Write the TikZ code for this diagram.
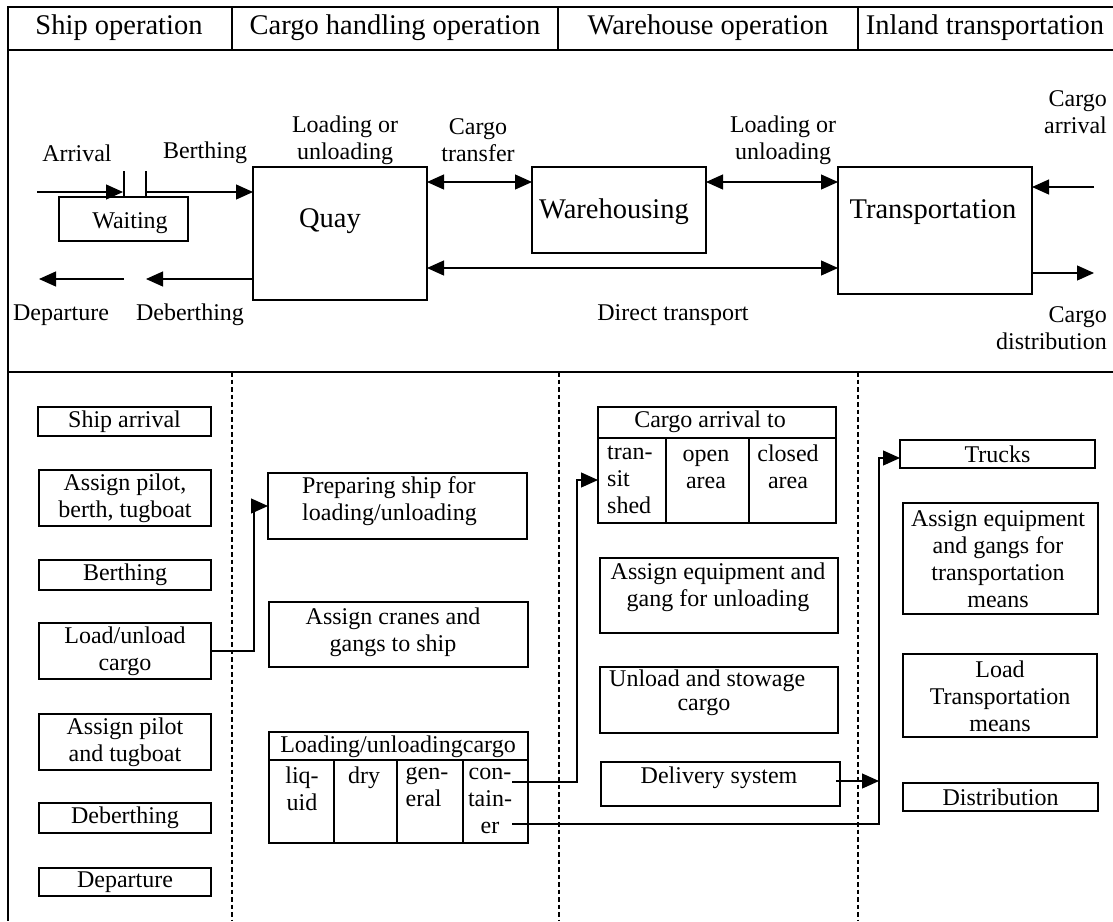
\documentclass[tikz,border=0pt]{standalone}
\usepackage{fontspec}
\setmainfont{Liberation Serif}
\usetikzlibrary{arrows.meta}
\newcommand\mkbox[6][bx]{\node[#1, minimum width={#4-#2}, minimum height={#5-#3}] (#6) at (#2,#3) {};}
\begin{document}
\begin{tikzpicture}[x=1pt,y=-1pt,
  frame/.style={line width=2.2pt},
  bx/.style={draw, line width=2.2pt, rectangle, inner sep=0pt, outer sep=0pt, anchor=north west},
  thinbx/.style={bx, line width=1.2pt},
  tabline/.style={line width=2.2pt},
  txt/.style={font=\fontsize{24}{27}\selectfont, align=center, inner sep=0pt},
  big/.style={font=\fontsize{28.5}{32}\selectfont, inner sep=0pt},
  con/.style={line width=1.2pt},
  arr/.style={con, -{Triangle[length=17pt,width=15pt]}},
  darr/.style={con, {Triangle[length=17pt,width=15pt]}-{Triangle[length=17pt,width=15pt]}},
  sepline/.style={line width=1.6pt, dash pattern=on 4.5pt off 3pt}
]
\useasboundingbox (0,0) rectangle (1113,921);

% ---- frame ----
\draw[frame] (1113,7) -- (8,7) -- (8,921);
\draw[frame] (8,50) -- (1113,50);
\draw[frame] (8,372) -- (1113,372);
\draw[frame] (232,7) -- (232,50);
\draw[frame] (558,7) -- (558,50);
\draw[frame] (858,7) -- (858,50);
\node[big] (h1) at (119,28) {Ship operation};
\node[big] (h2) at (395,28) {Cargo handling operation};
\node[big] (h3) at (708,28) {Warehouse operation};
\node[big] (h4) at (985,28) {Inland transportation};

% ---- middle section ----
\mkbox{253}{167}{427}{300}{quay}
\node[big] (quaylbl) at (330,221) {Quay};
\mkbox{532}{167}{706}{253}{wh}
\node[big] (whlbl) at (614,212) {Warehousing};
\mkbox{838}{167}{1032}{294}{tr}
\node[big] (trlbl) at (933,212) {Transportation};
\mkbox[thinbx]{59}{197}{188}{241}{waiting}
\node[txt] (waitlbl) at (130,223) {Waiting};

\node[txt] (arrlbl) at (77,153) {Arrival};
\node[txt] (berlbl) at (205,153) {Berthing};
\node[txt] (lu1) at (345,140) {Loading or\\unloading};
\node[txt] (ctr) at (478,140) {Cargo\\transfer};
\node[txt] (lu2) at (783,140) {Loading or\\unloading};
\node[txt, align=right, anchor=east] (carr) at (1107,112) {Cargo\\arrival};
\node[txt] (deplbl) at (61,315) {Departure};
\node[txt] (deblbl) at (190,315) {Deberthing};
\node[txt] (direct) at (673,315) {Direct transport};
\node[txt, align=right, anchor=east] (cdist) at (1107,328) {Cargo\\distribution};

\coordinate (arrin) at (37,192);
\coordinate (arrtip) at (123,192);
\draw[arr] (arrin) -- (arrtip);
\draw[con] (124,171) -- (124,197);
\draw[con] (146,171) -- (146,197);
\coordinate (berthstart) at (146,192);
\draw[arr] (berthstart) -- (berthstart -| quay.west);
\coordinate (debtip) at (146,279);
\draw[arr] (quay.west |- debtip) -- (debtip);
\coordinate (depstart) at (124,279);
\coordinate (deptip) at (39,279);
\draw[arr] (depstart) -- (deptip);
\draw[darr] (quay.east |- 0,182) -- (wh.west |- 0,182);
\draw[darr] (wh.east |- 0,182) -- (tr.west |- 0,182);
\draw[darr] (quay.east |- 0,268) -- (tr.west |- 0,268);
\coordinate (cain) at (1094,187);
\draw[arr] (cain) -- (cain -| tr.east);
\coordinate (cdout) at (1094,273);
\draw[arr] (cdout -| tr.east) -- (cdout);

% ---- lower section: lane separators ----
\draw[sepline] (232,372) -- (232,921);
\draw[sepline] (559,372) -- (559,921);
\draw[sepline] (858,372) -- (858,921);

% ship operation column
\mkbox{38}{407}{211}{436}{shiparr}
\node[txt] at (shiparr.center) {Ship arrival};
\mkbox{39}{470}{211}{526}{pilot1}
\node[txt] at (pilot1.center) {Assign pilot,\\berth, tugboat};
\mkbox{39}{560}{211}{590}{berth}
\node[txt] at (berth.center) {Berthing};
\mkbox{39}{623}{211}{679}{loadcargo}
\node[txt] at (loadcargo.center) {Load/unload\\cargo};
\mkbox{39}{714}{211}{770}{pilot2}
\node[txt] at (pilot2.center) {Assign pilot\\and tugboat};
\mkbox{39}{803}{211}{833}{deberth}
\node[txt] at (deberth.center) {Deberthing};
\mkbox{39}{868}{211}{896}{depart}
\node[txt] at (depart.center) {Departure};

% cargo handling column
\mkbox{268}{473}{527}{539}{prep}
\node[txt, align=left, anchor=west] (preplbl) at (302,501) {Preparing ship for\\loading/unloading};
\mkbox{269}{602}{528}{667}{cranes}
\node[txt] (craneslbl) at (393,632) {Assign cranes and\\gangs to ship};
\mkbox{269}{732}{528}{843}{lutab}
\draw[tabline] (269,760) -- (528,760);
\draw[tabline] (334,760) -- (334,843);
\draw[tabline] (397,760) -- (397,843);
\draw[tabline] (463,760) -- (463,843);
\node[txt] (luhead) at (398,747) {Loading/unloadingcargo};
\node[txt, anchor=north] (liq) at (302,767) {liq-\\uid};
\node[txt, anchor=north] (dry) at (364,767) {dry};
\node[txt, anchor=north, align=left] (gen) at (427,767) {gen-\\eral};
\node[txt, anchor=north] (cont) at (490,768) {con-\\tain-\\er};

% warehouse column
\mkbox{598}{407}{836}{523}{arrtab}
\draw[tabline] (598,438) -- (836,438);
\draw[tabline] (666,438) -- (666,523);
\draw[tabline] (749,438) -- (749,523);
\node[txt] (arrhead) at (710,422) {Cargo arrival to};
\node[txt, anchor=north west, align=left] (transit) at (607,446) {tran-\\sit\\shed};
\node[txt, anchor=north] (open) at (706,450) {open\\area};
\node[txt, anchor=north] (closed) at (788,445) {closed\\area};
\mkbox{600}{558}{838}{633}{assigneq}
\node[txt] (assigneqlbl) at (718,587) {Assign equipment and\\gang for unloading};
\mkbox{600}{667}{838}{733}{unload}
\node[txt, anchor=west] (unl1) at (609,681) {Unload and stowage};
\node[txt] (unl2) at (704,707) {cargo};
\mkbox{601}{762}{840}{806}{delivery}
\node[txt] (deliverylbl) at (719,778) {Delivery system};

% inland transportation column
\mkbox{900}{440}{1095}{468}{trucks}
\node[txt] at (trucks.center) {Trucks};
\mkbox{903}{503}{1098}{614}{assigntr}
\node[txt] (assigntrlbl) at (998,559) {Assign equipment\\and gangs for\\transportation\\means};
\mkbox{903}{654}{1097}{737}{loadtr}
\node[txt] (loadtrlbl) at (1000,696) {Load\\Transportation\\means};
\mkbox{903}{783}{1098}{811}{distrib}
\node[txt] at (distrib.center) {Distribution};

% lower connectors
\draw[arr] (loadcargo.east) -- ++(43,0) |- (prep.west);
\coordinate (conend) at (512,782);
\draw[arr] (conend) -- ++(65,0) |- (arrtab.west |- 0,480);
\coordinate (erend) at (512,824);
\draw[arr] (erend) -- ++(367,0) |- (trucks.west |- 0,458);
\coordinate (dlvtip) at (879,781);
\draw[arr] (836,781) -- (dlvtip);
\end{tikzpicture}
\end{document}
